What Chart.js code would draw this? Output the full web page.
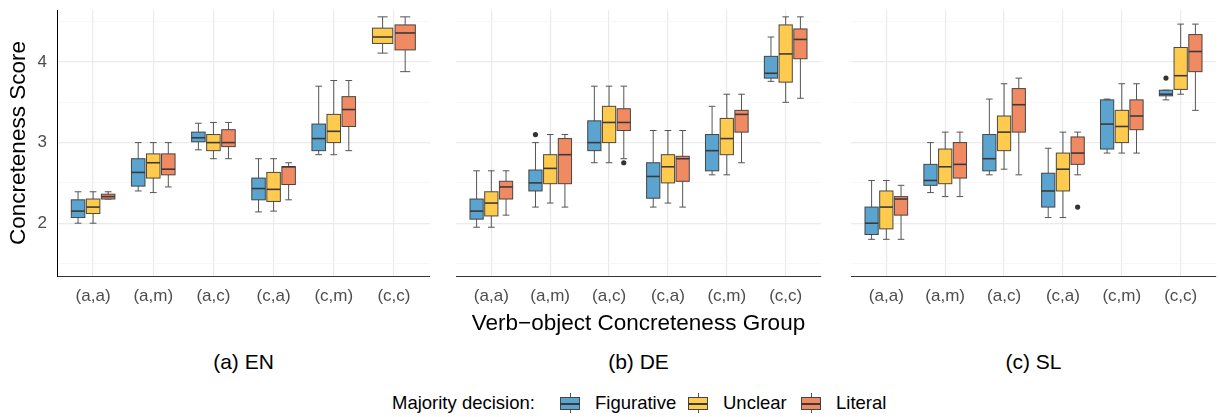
<!DOCTYPE html>
<html>
<head>
<meta charset="utf-8">
<title>Concreteness Score by group</title>
<script src="https://cdn.jsdelivr.net/npm/chart.js@4.4.1/dist/chart.umd.min.js"></script>
<style>
  body { margin: 0; background: #fff; font-family: "Liberation Sans", Arial, sans-serif; }
  #wrap { position: relative; width: 1220px; height: 417px; overflow: hidden; }
  canvas { position: absolute; top: 0; }
  .sub { position: absolute; top: 350px; font-size: 21px; line-height: 24px; transform: translateX(-50%); white-space: nowrap; color: #000; }
  .leg { position: absolute; top: 392px; font-size: 18.5px; line-height: 22px; white-space: nowrap; color: #000; }
  .key { position: absolute; top: 393px; width: 20px; height: 20px; }
  .key .stub { position: absolute; left: 9.5px; top: 0; width: 1px; height: 20px; background: #555; }
  .key .box { position: absolute; left: 0; top: 4px; width: 20px; height: 13px; box-sizing: border-box; border: 1px solid #444; }
  .key .med { position: absolute; left: 0; top: 10px; width: 20px; height: 1.5px; background: #3a3a3a; }
</style>
</head>
<body>
<div id="wrap">
  <canvas id="panelEN" width="430" height="342" style="left:0px"></canvas>
  <canvas id="panelDE" width="373" height="342" style="left:452px"></canvas>
  <canvas id="panelSL" width="373" height="342" style="left:847px"></canvas>
  <div class="sub" style="left:243.5px">(a) EN</div>
  <div class="sub" style="left:638.5px">(b) DE</div>
  <div class="sub" style="left:1033.5px">(c) SL</div>
  <div id="legend"></div>
</div>
<script>
/* =========================
  Data (each box: [lower whisker, q1, median, q3, upper whisker])
========================= */
const categories = ["(a,a)", "(a,m)", "(a,c)", "(c,a)", "(c,m)", "(c,c)"];
const seriesNames = ["Figurative", "Unclear", "Literal"];
const seriesColors = ["#5BA4CF", "#FECB4E", "#F08A62"];
const yTickLabels = [2, 3, 4];
const yGrid = [1.5, 2, 2.5, 3, 3.5, 4, 4.5];

const enFigurative = [
  [2.00, 2.07, 2.15, 2.29, 2.39],
  [2.40, 2.46, 2.63, 2.80, 3.00],
  [2.91, 3.01, 3.06, 3.13, 3.24],
  [2.14, 2.29, 2.43, 2.56, 2.80],
  [2.85, 2.90, 3.05, 3.23, 3.70],
  null
];
const enUnclear = [
  [2.00, 2.12, 2.20, 2.30, 2.39],
  [2.38, 2.56, 2.75, 2.86, 3.00],
  [2.80, 2.90, 3.00, 3.10, 3.25],
  [2.15, 2.27, 2.42, 2.63, 2.80],
  [2.85, 3.00, 3.14, 3.35, 3.77],
  [4.11, 4.23, 4.31, 4.42, 4.56]
];
const enLiteral = [
  [2.30, 2.30, 2.33, 2.36, 2.39],
  [2.45, 2.60, 2.67, 2.86, 3.00],
  [2.80, 2.95, 3.00, 3.16, 3.25],
  [2.29, 2.48, 2.70, 2.70, 2.75],
  [2.90, 3.20, 3.41, 3.57, 3.77],
  [3.88, 4.15, 4.36, 4.46, 4.56]
];

const deFigurative = [
  [1.95, 2.05, 2.15, 2.30, 2.65],
  [2.20, 2.40, 2.50, 2.66, 3.00],
  [2.75, 2.90, 3.00, 3.27, 3.70],
  [2.20, 2.31, 2.58, 2.75, 3.15],
  [2.60, 2.65, 2.90, 3.10, 3.45],
  [3.76, 3.80, 3.86, 4.07, 4.31]
];
const deUnclear = [
  [1.95, 2.09, 2.25, 2.39, 2.65],
  [2.25, 2.49, 2.68, 2.85, 3.10],
  [2.75, 3.00, 3.25, 3.45, 3.70],
  [2.25, 2.50, 2.70, 2.85, 3.15],
  [2.60, 2.85, 3.05, 3.30, 3.60],
  [3.50, 3.75, 4.10, 4.46, 4.56]
];
const deLiteral = [
  [2.10, 2.30, 2.45, 2.52, 2.65],
  [2.20, 2.49, 2.85, 3.05, 3.10],
  [2.80, 3.15, 3.25, 3.42, 3.70],
  [2.20, 2.52, 2.80, 2.83, 3.15],
  [2.75, 3.13, 3.35, 3.40, 3.60],
  [3.55, 4.04, 4.28, 4.41, 4.56]
];

const slFigurative = [
  [1.80, 1.86, 2.00, 2.20, 2.53],
  [2.38, 2.47, 2.53, 2.73, 3.00],
  [2.60, 2.65, 2.80, 3.10, 3.54],
  [2.07, 2.20, 2.40, 2.62, 2.93],
  [2.87, 2.92, 3.23, 3.53, 3.54],
  [3.53, 3.58, 3.60, 3.65, 3.65]
];
const slUnclear = [
  [1.80, 1.93, 2.20, 2.40, 2.53],
  [2.33, 2.49, 2.70, 2.92, 3.13],
  [2.67, 2.90, 3.13, 3.33, 3.73],
  [2.07, 2.40, 2.67, 2.87, 3.13],
  [2.87, 3.00, 3.20, 3.40, 3.73],
  [3.60, 3.66, 3.83, 4.18, 4.47]
];
const slLiteral = [
  [1.80, 2.10, 2.30, 2.33, 2.47],
  [2.33, 2.56, 2.73, 3.00, 3.13],
  [2.60, 3.13, 3.47, 3.67, 3.80],
  [2.60, 2.73, 2.87, 3.07, 3.13],
  [2.87, 3.16, 3.33, 3.53, 3.73],
  [3.40, 3.88, 4.13, 4.34, 4.47]
];

// outliers: [category index, series index, value]
const enOutliers = [];
const deOutliers = [[1, 0, 3.10], [2, 2, 2.75]];
const slOutliers = [[3, 2, 2.20], [5, 0, 3.80]];

const yMin = 1.345;
const yMax = 4.645;

/* =========================
  Helper
========================= */
Chart.defaults.font.family = "'Liberation Sans', Arial, sans-serif";

// ggplot-like dodge: 0.75 wide group split among the boxes that exist
function dodge(boxes, cat, s) {
  const present = boxes.map((ser, k) => (ser[cat] ? k : -1)).filter(k => k >= 0);
  const slot = 0.75 / present.length;
  const pos = present.indexOf(s);
  return { offset: -0.375 + slot * (pos + 0.5), width: slot * 0.9 };
}

function boxPlugin(boxes) {
  return {
    id: "boxplot",
    beforeDatasetsDraw(chart) {
      const { ctx, scales: { x, y } } = chart;
      const unit = x.getPixelForValue(1) - x.getPixelForValue(0);
      ctx.save();
      boxes.forEach((series, s) => {
        series.forEach((b, i) => {
          if (!b) return;
          const d = dodge(boxes, i, s);
          const cx = x.getPixelForValue(i + d.offset);
          const w = d.width * unit;
          const [lo, q1, med, q3, hi] = b.map(v => y.getPixelForValue(v));

          ctx.strokeStyle = "#555";
          ctx.lineWidth = 1;
          ctx.beginPath();
          ctx.moveTo(cx, hi); ctx.lineTo(cx, q3);
          ctx.moveTo(cx, q1); ctx.lineTo(cx, lo);
          ctx.moveTo(cx - w / 4, hi); ctx.lineTo(cx + w / 4, hi);
          ctx.moveTo(cx - w / 4, lo); ctx.lineTo(cx + w / 4, lo);
          ctx.stroke();

          ctx.fillStyle = seriesColors[s];
          ctx.fillRect(cx - w / 2, q3, w, q1 - q3);
          ctx.strokeStyle = "rgba(55,55,55,0.9)";
          ctx.lineWidth = 1;
          ctx.strokeRect(cx - w / 2, q3, w, q1 - q3);

          ctx.strokeStyle = "#3a3a3a";
          ctx.lineWidth = 1.6;
          ctx.beginPath();
          ctx.moveTo(cx - w / 2, med); ctx.lineTo(cx + w / 2, med);
          ctx.stroke();
        });
      });
      ctx.restore();
    }
  };
}

/* =========================
  Panels
========================= */
function buildPanel(id, boxes, outliers, first, xTitle) {
  const points = outliers.map(([cat, s, v]) => ({ x: cat + dodge(boxes, cat, s).offset, y: v }));

  return new Chart(document.getElementById(id), {
    type: "scatter",
    data: {
      datasets: [{
        data: points,
        pointRadius: 2.6,
        pointBackgroundColor: "#333",
        pointBorderWidth: 0
      }]
    },
    options: {
      responsive: false,
      animation: false,
      devicePixelRatio: 1,
      layout: { padding: { top: 10, left: 0, right: 0, bottom: 0 } },
      plugins: {
        legend: { display: false },
        tooltip: { enabled: false }
      },
      scales: {
        x: {
          type: "linear",
          min: -0.6,
          max: 5.6,
          afterBuildTicks: s => { s.ticks = categories.map((c, i) => ({ value: i })); },
          afterFit: s => { s.height = 66; s.paddingLeft = 0; s.paddingRight = 0; },
          grid: { color: "#ebebeb", lineWidth: 1.2, drawTicks: false },
          border: { color: "#333", width: 1 },
          ticks: {
            callback: v => categories[v],
            color: "#4d4d4d",
            font: { size: 17 },
            padding: 10,
            maxRotation: 0,
            autoSkip: false
          },
          title: {
            display: !!xTitle,
            text: xTitle || "",
            color: "#000",
            font: { size: 22.5 },
            padding: { top: 0, bottom: 5 }
          }
        },
        y: {
          min: yMin,
          max: yMax,
          afterBuildTicks: s => { s.ticks = yGrid.map(v => ({ value: v })); },
          afterFit: s => { s.width = first ? 57 : 0; s.paddingTop = 0; s.paddingBottom = 0; },
          grid: {
            drawTicks: false,
            color: c => (yTickLabels.includes(c.tick.value) ? "#ebebeb" : "#f3f3f3"),
            lineWidth: c => (yTickLabels.includes(c.tick.value) ? 1.2 : 0.7)
          },
          border: { display: first, color: "#000", width: 1 },
          ticks: {
            display: first,
            callback: v => (yTickLabels.includes(v) ? String(v) : ""),
            color: "#4d4d4d",
            font: { size: 17 },
            padding: 10
          },
          title: {
            display: first,
            text: "Concreteness Score",
            color: "#000",
            font: { size: 22.5 },
            padding: { top: 5, bottom: 0 }
          }
        }
      }
    },
    plugins: [boxPlugin(boxes)]
  });
}

buildPanel("panelEN", [enFigurative, enUnclear, enLiteral], enOutliers, true, null);
buildPanel("panelDE", [deFigurative, deUnclear, deLiteral], deOutliers, false, "Verb\u2212object Concreteness Group");
buildPanel("panelSL", [slFigurative, slUnclear, slLiteral], slOutliers, false, null);

/* =========================
  Legend
========================= */
const legend = document.getElementById("legend");
const legendLeft = { label: 392, keys: [560, 688, 801], texts: [595, 723, 836] };
legend.innerHTML = `<div class="leg" style="left:${legendLeft.label}px">Majority decision:</div>` +
  seriesNames.map((name, i) => `
    <div class="key" style="left:${legendLeft.keys[i]}px">
      <div class="stub"></div>
      <div class="box" style="background:${seriesColors[i]}"></div>
      <div class="med"></div>
    </div>
    <div class="leg" style="left:${legendLeft.texts[i]}px">${name}</div>`).join("");
</script>
</body>
</html>
